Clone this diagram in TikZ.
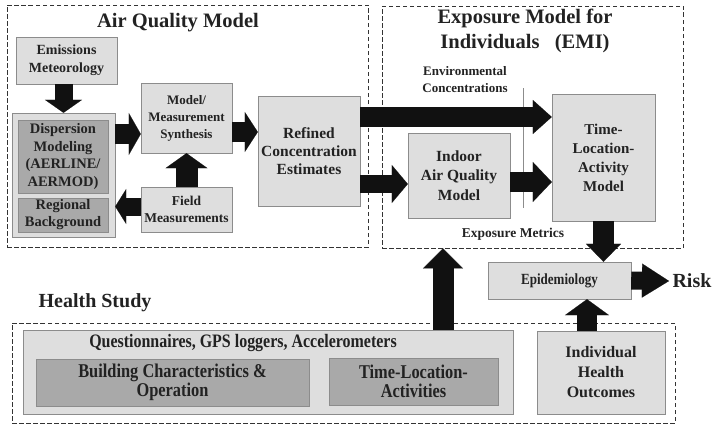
\documentclass[tikz,border=0pt]{standalone}
\usepackage{fontspec}
\setmainfont{Liberation Serif}
\newfontfamily\condfont[FakeStretch=0.84]{Liberation Serif}
\usepackage{tikz}
\usetikzlibrary{arrows.meta,calc}

\definecolor{lightfill}{HTML}{DEDEDE}
\definecolor{darkfill}{HTML}{A9A9A9}
\definecolor{boxline}{HTML}{8C8C8C}
\definecolor{dashline}{HTML}{333333}
\definecolor{inkgray}{HTML}{222222}
\definecolor{arrowfill}{HTML}{111111}

\newcommand{\fs}[2]{\bfseries\fontsize{#1}{#2}\selectfont}
\newcommand{\cfs}[2]{\condfont\bfseries\fontsize{#1}{#2}\selectfont}

\begin{document}
\begin{tikzpicture}[x=1pt,y=-1pt]
		\tikzstyle{light_block} = [draw=boxline, fill=lightfill, inner sep=0, align=center, text=inkgray, font=\fs{14}{18}];
		\tikzstyle{dark_block} = [draw=boxline, fill=darkfill, inner sep=0, align=center, text=inkgray, font=\fs{14.5}{17.5}];
		\tikzstyle{group_box} = [draw=dashline, line width=0.9pt, dash pattern=on 4.5pt off 2.5pt, inner sep=0];
		\tikzstyle{title_text} = [align=center, text=inkgray, font=\fs{20.5}{25}];
		\tikzstyle{label_text} = [align=center, text=inkgray, font=\fs{13}{17}];
		\tikzstyle{big_arrow} = [draw=arrowfill, line width=20pt, -{Triangle[length=16pt, width=40pt, line width=0.1pt, fill=arrowfill]}];

		\useasboundingbox (0,0) rectangle (718,431);

		% dashed groups
		\node[group_box, minimum width=361, minimum height=242] (aqm) at (187.5,126) {};
		\node[group_box, minimum width=301, minimum height=242] (emi) at (532.5,127) {};
		\node[group_box, minimum width=663, minimum height=100] (health) at (343.5,373) {};

		\node[title_text] (aqmtitle) at (178,23) {Air Quality Model};
		\node[title_text] (emititle) at (525,31) {Exposure Model for\\Individuals\ \ \ (EMI)};
		\node[title_text, font=\fs{20}{24}] (healthtitle) at (95,303) {Health Study};

		% air quality model
		\node[light_block, minimum width=101, minimum height=47] (emis) at (66.5,60.5) {Emissions\\Meteorology};
		\node[light_block, minimum width=103, minimum height=124] (dispbg) at (63.5,175) {};
		\node[dark_block, minimum width=90, minimum height=73] (disp) at (63,156.5) {Dispersion\\Modeling\\(AERLINE/\\AERMOD)};
		\node[dark_block, minimum width=90, minimum height=34, font=\fs{14.5}{17}] (regional) at (63,215) {Regional\\Background};
		\node[light_block, minimum width=91, minimum height=70, font=\fs{13}{17}] (mms) at (186.5,118) {Model/\\Measurement\\Synthesis};
		\node[light_block, minimum width=91, minimum height=45, font=\fs{13.5}{16.5}] (field) at (186.5,209.5) {Field\\Measurements};
		\node[light_block, minimum width=102, minimum height=110, font=\fs{15.5}{18}] (refined) at (309,151) {Refined\\Concentration\\Estimates};

		% exposure model
		\node[light_block, minimum width=102, minimum height=85, font=\fs{15.5}{19.5}] (indoor) at (459,175.5) {Indoor\\Air Quality\\Model};
		\node[light_block, minimum width=103, minimum height=127, font=\fs{15}{19}] (tla) at (603.5,157.5) {Time-\\Location-\\Activity\\Model};
		\node[label_text] (envconc) at (465,80) {Environmental\\Concentrations};
		\node[label_text, font=\fs{13.5}{17}] (expmet) at (513,234) {Exposure Metrics};
		\draw[boxline, line width=0.6pt] (523,88) -- (523,208);

		% epidemiology
		\node[light_block, minimum width=143, minimum height=37, font=\cfs{15.5}{17}] (epi) at (559.5,280.5) {Epidemiology};
		\node[title_text, font=\fs{20}{24}] (risk) at (692,281) {Risk};

		% health study
		\node[light_block, minimum width=490, minimum height=84] (qbox) at (268,372) {};
		\node[label_text, font=\cfs{19}{19}] (qtext) at (243,343) {Questionnaires, GPS loggers, Accelerometers};
		\node[dark_block, minimum width=273, minimum height=47, font=\cfs{19.5}{19}] (build) at (172.5,382.5) {Building Characteristics \&\\Operation};
		\node[dark_block, minimum width=169, minimum height=47, font=\cfs{19.5}{19}] (tlact) at (413.5,381.5) {Time-Location-\\Activities};
		\node[light_block, minimum width=128, minimum height=83, font=\fs{16}{20}] (iho) at (601,372.5) {Individual\\Health\\Outcomes};

		\draw[big_arrow, line width=18pt, -{Triangle[length=13pt, width=37pt, line width=0.1pt, fill=arrowfill]}] (dispbg.north |- emis.south) -- (dispbg.north);
		\draw[big_arrow, -{Triangle[length=12pt, width=42pt, line width=0.1pt, fill=arrowfill]}] ([yshift=-16pt]mms.west -| dispbg.east) -- ([yshift=-16pt]mms.west);
		\draw[big_arrow, -{Triangle[length=13pt, width=40pt, line width=0.1pt, fill=arrowfill]}] ([yshift=-14pt]mms.east) -- ([yshift=-14pt]mms.east -| refined.west);
		\draw[big_arrow, line width=22pt, -{Triangle[length=15pt, width=42pt, line width=0.1pt, fill=arrowfill]}] (field.north) -- (mms.south);
		\draw[big_arrow, line width=18pt, -{Triangle[length=11pt, width=35pt, line width=0.1pt, fill=arrowfill]}] ([yshift=3pt]field.west) -- ([yshift=3pt]field.west -| dispbg.east);

		\draw[big_arrow, -{Triangle[length=19pt, width=34pt, line width=0.1pt, fill=arrowfill]}] ([yshift=34pt]refined.east) -- ([yshift=34pt]refined.east -| tla.west);
		\draw[big_arrow, line width=18pt, -{Triangle[length=16pt, width=38pt, line width=0.1pt, fill=arrowfill]}] ([yshift=-33pt]refined.east) -- ([yshift=-33pt]refined.east -| indoor.west);
		\draw[big_arrow, -{Triangle[length=19pt, width=40pt, line width=0.1pt, fill=arrowfill]}] ([yshift=-6.5pt]indoor.east) -- ([yshift=-6.5pt]indoor.east -| tla.west);

		\draw[big_arrow, line width=21pt, -{Triangle[length=18pt, width=35pt, line width=0.1pt, fill=arrowfill]}] (tla.south) -- (tla.south |- epi.north);
		\draw[big_arrow, line width=18pt, -{Triangle[length=27pt, width=34pt, line width=0.1pt, fill=arrowfill]}] (epi.east) -- (risk.west);
		\draw[big_arrow, line width=21pt, -{Triangle[length=20pt, width=40pt, line width=0.1pt, fill=arrowfill]}] ([xshift=175pt]qbox.north) -- ([xshift=175pt]qbox.north |- emi.south);
		\draw[big_arrow, -{Triangle[length=16pt, width=44pt, line width=0.1pt, fill=arrowfill]}] ([xshift=-14pt]iho.north) -- ([xshift=-14pt]iho.north |- epi.south);
	\end{tikzpicture}
\end{document}
